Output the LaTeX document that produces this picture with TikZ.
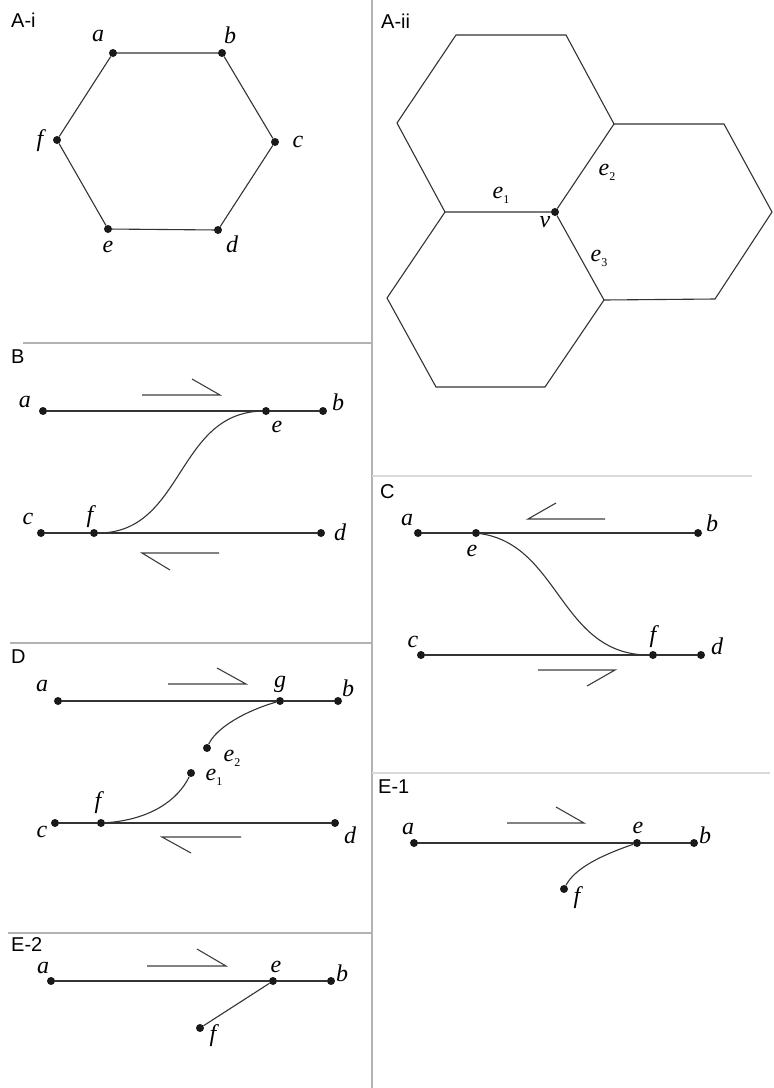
\documentclass[tikz,border=0pt]{standalone}
\usepackage{fontspec}
\setmainfont{Liberation Serif}
\newfontfamily\panelfont{Liberation Sans}
\newcommand\lsub[1]{\raisebox{-0.45ex}{\upshape\fontsize{12}{12}\selectfont #1}}
\begin{document}
\begin{tikzpicture}[x=1pt,y=-1pt,
  dot/.style={circle,fill=black!90,inner sep=0pt,minimum size=8pt},
  edge/.style={draw=black!80,line width=1.1pt},
  slip/.style={draw=black!75,line width=1.1pt},
  divider/.style={draw=black!30,line width=1.5pt},
  divlight/.style={draw=black!15,line width=1.5pt},
  lbl/.style={font=\fontsize{24}{24}\selectfont\itshape,inner sep=0pt},
  panel/.style={font=\panelfont\fontsize{20}{20}\selectfont,anchor=west,inner sep=0pt}]
\useasboundingbox (0,0) rectangle (774,1088);
\fill[white] (0,0) rectangle (774,1088);
% dividers
\draw[divider] (372,0) -- (372,1088);
\draw[divider] (23,343) -- (372,343);
\draw[divider] (10,643) -- (372,643);
\draw[divider] (8,933) -- (372,933);
\draw[divlight] (372,476) -- (752,476);
\draw[divlight] (372,773) -- (770,773);
% panel labels
\node[panel] (pAi) at (11,20) {A-i};
\node[panel] (pAii) at (381,21) {A-ii};
\node[panel] (pB) at (11,357) {B};
\node[panel] (pC) at (380,492) {C};
\node[panel] (pD) at (11,657) {D};
\node[panel] (pE1) at (378,787) {E-1};
\node[panel] (pE2) at (11,945) {E-2};

% ---------- A-i ----------
\node[dot] (Aa) at (113,53) {};
\node[dot] (Ab) at (222,53) {};
\node[dot] (Ac) at (275,142) {};
\node[dot] (Ad) at (218,230) {};
\node[dot] (Ae) at (108,229) {};
\node[dot] (Af) at (57,140) {};
\draw[edge] (Aa) -- (Ab) -- (Ac) -- (Ad) -- (Ae) -- (Af) -- (Aa);
\node[lbl] (Aal) at (98,36) {a};
\node[lbl] (Abl) at (230,35) {b};
\node[lbl] (Acl) at (298,142) {c};
\node[lbl] (Adl) at (232,244) {d};
\node[lbl] (Ael) at (108,247) {e};
\node[lbl] (Afl) at (40,141) {f};

% ---------- A-ii ----------
\node[dot] (Av) at (555,212) {};
\draw[edge] (Av) -- (445,212) -- (397,123) -- (456,35) -- (566,35) -- (614,124) -- (Av);
\draw[edge] (614,124) -- (724,124) -- (772,212) -- (715,299) -- (604,300) -- (Av);
\draw[edge] (445,212) -- (387,298) -- (436,387) -- (545,387) -- (604,300);
\node[lbl] (Ae1) at (501,195) {e\lsub{1}};
\node[lbl] (Ae2) at (607,172) {e\lsub{2}};
\node[lbl] (Ae3) at (599,258) {e\lsub{3}};
\node[lbl] (Avl) at (545,222) {v};

% ---------- B ----------
\node[dot] (Ba) at (43,411) {};
\node[dot] (Be) at (266,411) {};
\node[dot] (Bb) at (323,411) {};
\node[dot] (Bc) at (41,533) {};
\node[dot] (Bf) at (94,533) {};
\node[dot] (Bd) at (321,533) {};
\draw[edge] (Ba) -- (Be) -- (Bb);
\draw[edge] (Bc) -- (Bf) -- (Bd);
\draw[edge] (Bf) .. controls (184,533) and (176,413) .. (Be);
\draw[slip] (142,395) -- (220,395) -- (192,379);
\draw[slip] (219,553) -- (142,553) -- (170,570);
\node[lbl] (Bal) at (25,402) {a};
\node[lbl] (Bbl) at (338,402) {b};
\node[lbl] (Bel) at (277,427) {e};
\node[lbl] (Bcl) at (28,519) {c};
\node[lbl] (Bfl) at (90,517) {f};
\node[lbl] (Bdl) at (340,532) {d};

% ---------- C ----------
\node[dot] (Ca) at (418,533) {};
\node[dot] (Ce) at (476,533) {};
\node[dot] (Cb) at (698,533) {};
\node[dot] (Cc) at (421,655) {};
\node[dot] (Cf) at (653,655) {};
\node[dot] (Cd) at (701,655) {};
\draw[edge] (Ca) -- (Ce) -- (Cb);
\draw[edge] (Cc) -- (Cf) -- (Cd);
\draw[edge] (Ce) .. controls (560,545) and (560,655) .. (Cf);
\draw[slip] (605,519) -- (528,519) -- (556,503);
\draw[slip] (538,670) -- (615,670) -- (587,686);
\node[lbl] (Cal) at (407,520) {a};
\node[lbl] (Cel) at (472,551) {e};
\node[lbl] (Cbl) at (712,523) {b};
\node[lbl] (Ccl) at (413,642) {c};
\node[lbl] (Cfl) at (653,637) {f};
\node[lbl] (Cdl) at (717,646) {d};

% ---------- D ----------
\node[dot] (Da) at (58,701) {};
\node[dot] (Dg) at (280,701) {};
\node[dot] (Db) at (338,701) {};
\node[dot] (De2) at (207,748) {};
\node[dot] (De1) at (191,773) {};
\node[dot] (Dc) at (55,823) {};
\node[dot] (Df) at (101,823) {};
\node[dot] (Dd) at (335,823) {};
\draw[edge] (Da) -- (Dg) -- (Db);
\draw[edge] (Dc) -- (Df) -- (Dd);
\draw[edge] (Dg) .. controls (245,711) and (216,728) .. (De2);
\draw[edge] (Df) .. controls (150,820) and (178,800) .. (De1);
\draw[slip] (168,684) -- (246,684) -- (217,668);
\draw[slip] (241,837) -- (162,837) -- (191,853);
\node[lbl] (Dal) at (42,686) {a};
\node[lbl] (Dgl) at (280,684) {g};
\node[lbl] (Dbl) at (348,688) {b};
\node[lbl] (De2l) at (232,758) {e\lsub{2}};
\node[lbl] (De1l) at (214,777) {e\lsub{1}};
\node[lbl] (Dfl) at (98,803) {f};
\node[lbl] (Dcl) at (42,832) {c};
\node[lbl] (Ddl) at (350,835) {d};

% ---------- E-1 ----------
\node[dot] (Ea) at (414,843) {};
\node[dot] (Ee) at (637,843) {};
\node[dot] (Eb) at (694,843) {};
\node[dot] (Ef) at (564,889) {};
\draw[edge] (Ea) -- (Ee) -- (Eb);
\draw[edge] (Ee) .. controls (602,855) and (575,868) .. (Ef);
\draw[slip] (507,823) -- (584,823) -- (556,807);
\node[lbl] (Eal) at (408,829) {a};
\node[lbl] (Eel) at (638,828) {e};
\node[lbl] (Ebl) at (705,835) {b};
\node[lbl] (Efl) at (577,898) {f};

% ---------- E-2 ----------
\node[dot] (Fa) at (51,981) {};
\node[dot] (Fe) at (273,981) {};
\node[dot] (Fb) at (331,981) {};
\node[dot] (Ff) at (200,1028) {};
\draw[edge] (Fa) -- (Fe) -- (Fb);
\draw[edge] (Fe) -- (Ff);
\draw[slip] (147,966) -- (226,966) -- (197,949);
\node[lbl] (Fal) at (43,968) {a};
\node[lbl] (Fel) at (276,967) {e};
\node[lbl] (Fbl) at (342,973) {b};
\node[lbl] (Ffl) at (213,1036) {f};
\end{tikzpicture}
\end{document}
